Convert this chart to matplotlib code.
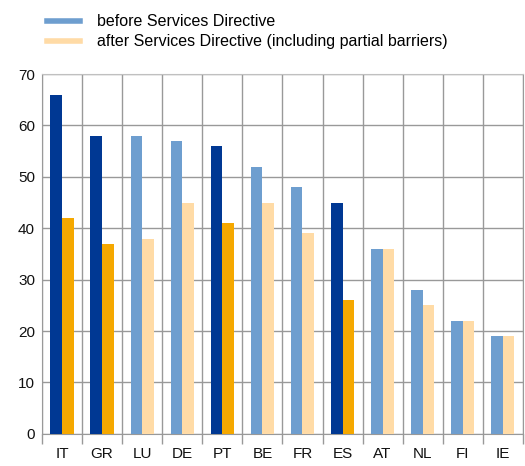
import numpy as np
import matplotlib.pyplot as plt
from matplotlib.lines import Line2D

plt.rcParams['font.family'] = ['Liberation Sans', 'DejaVu Sans']

countries = ['IT', 'GR', 'LU', 'DE', 'PT', 'BE', 'FR', 'ES', 'AT', 'NL', 'FI', 'IE']
before = [66, 58, 58, 57, 56, 52, 48, 45, 36, 28, 22, 19]
after = [42, 37, 38, 45, 41, 45, 39, 26, 36, 25, 22, 19]
highlight = ['IT', 'GR', 'PT', 'ES']

dark_blue, dark_orange = '#003893', '#f5a800'
light_blue, light_orange = '#6e9ecf', '#ffdba6'

fig = plt.figure(figsize=(5.25, 4.66), dpi=100)
ax = fig.add_axes([0.08, 0.069, 0.916, 0.772])

x = np.arange(len(countries))
w = 0.29
c_before = [dark_blue if c in highlight else light_blue for c in countries]
c_after = [dark_orange if c in highlight else light_orange for c in countries]
ax.bar(x - w / 2, before, w, color=c_before, zorder=3)
ax.bar(x + w / 2, after, w, color=c_after, zorder=3)

ax.set_xlim(-0.5, len(countries) - 0.5)
ax.set_ylim(0, 70)
ax.set_yticks(range(0, 71, 10))
ax.set_xticks(x)
ax.set_xticklabels(countries)
ax.set_xticks(np.arange(-0.5, len(countries), 1), minor=True)

ax.grid(True, axis='y', color='#999999', lw=1, zorder=0)
ax.grid(True, axis='x', which='minor', color='#999999', lw=1, zorder=0)
ax.tick_params(axis='x', which='major', length=0, labelsize=11, pad=9.5, colors='#111111')
ax.tick_params(axis='x', which='minor', length=7, color='#999999', width=1)
ax.tick_params(axis='y', length=0, labelsize=11, pad=5, colors='#111111')
for s in ['left', 'bottom', 'right']:
    ax.spines[s].set_color('#999999')
ax.spines['top'].set_color('#c0c0c0')

handles = [Line2D([], [], color=light_blue, lw=4),
           Line2D([], [], color=light_orange, lw=4)]
labels = ['before Services Directive',
          'after Services Directive (including partial barriers)']
fig.legend(handles, labels, loc='upper left', bbox_to_anchor=(0.062, 1.0),
           frameon=False, fontsize=11.5, handlelength=2.1, handletextpad=1.05,
           labelspacing=0.3)

fig.savefig('out.png', dpi=100)
